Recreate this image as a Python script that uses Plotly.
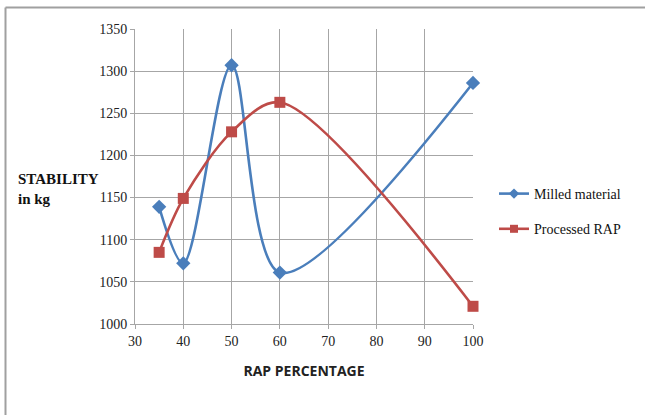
import plotly.graph_objects as go

rap_pct = [35, 40, 50, 60, 100]
milled_material = [1139, 1072, 1307, 1061, 1286]
processed_rap = [1085, 1149, 1228, 1263, 1021]

x_ticks = [30, 40, 50, 60, 70, 80, 90, 100]
y_ticks = [1000, 1050, 1100, 1150, 1200, 1250, 1300, 1350]

W, H = 645, 415
L, R, T, B = 135, 172, 29, 91
pw, ph = W - L - R, H - T - B

BLUE = "#4a7ebb"
RED = "#be4b48"

fig = go.Figure()
series = [
    ("Milled material", milled_material, BLUE, "diamond"),
    ("Processed RAP", processed_rap, RED, "square"),
]
for i, (name, vals, col, sym) in enumerate(series):
    fig.add_trace(go.Scatter(
        x=rap_pct, y=vals, name=name, mode="lines+markers",
        line=dict(color=col, width=2.6, shape="spline", smoothing=0.9),
        marker=dict(symbol=sym, size=11, color=col),
        showlegend=False, cliponaxis=False,
    ))
    # legend entry with the smaller key marker
    fig.add_trace(go.Scatter(
        x=[None], y=[None], name=name, mode="lines+markers",
        line=dict(color=col, width=2.6),
        marker=dict(symbol=sym, size=8, color=col),
        legendgroup=f"g{i}", showlegend=True,
    ))

serif = "Liberation Serif"
grid = "#a6a6a6"

fig.update_xaxes(
    range=[30, 100], tickvals=x_ticks, ticktext=[str(v) for v in x_ticks],
    showgrid=True, gridcolor=grid, gridwidth=1,
    showline=True, linecolor=grid, linewidth=1,
    ticks="outside", ticklen=4, tickcolor=grid,
    tickfont=dict(family=serif, size=14, color="#222"),
    zeroline=False,
    title=dict(text="<b>RAP PERCENTAGE</b>", standoff=18,
               font=dict(family="Open Sans", size=14, color="#222")),
)
fig.update_yaxes(
    range=[1000, 1350], tickvals=y_ticks,
    showgrid=True, gridcolor=grid, gridwidth=1,
    showline=True, linecolor=grid, linewidth=1,
    ticks="outside", ticklen=4, tickcolor=grid,
    tickfont=dict(family=serif, size=14, color="#222"),
    zeroline=False,
)

# y-axis caption placed at the left like a free text label
fig.add_annotation(
    text="<b>STABILITY<br>in kg</b>", xref="paper", yref="paper",
    x=(16 - L) / pw, y=1 - (169 - T) / ph, xanchor="left", yanchor="top",
    align="left", showarrow=False,
    font=dict(family=serif, size=15, color="#111"),
)

# outer chart frame (top and left edges)
fx0 = (5.5 - L) / pw
fy_top = 1 - (7.5 - T) / ph
fy_bot = 1 - (H + 5 - T) / ph
fx_right = (W + 5 - L) / pw
fig.add_shape(type="line", xref="paper", yref="paper", x0=fx0, x1=fx_right,
              y0=fy_top, y1=fy_top, line=dict(color="#a0a0a0", width=2))
fig.add_shape(type="line", xref="paper", yref="paper", x0=fx0, x1=fx0,
              y0=fy_bot, y1=fy_top, line=dict(color="#a0a0a0", width=2))

fig.update_layout(
    width=W, height=H,
    margin=dict(l=L, r=R, t=T, b=B),
    paper_bgcolor="white", plot_bgcolor="white",
    showlegend=True,
    legend=dict(x=(494 - L) / pw, y=1 - (178 - T) / ph, xanchor="left", yanchor="top",
                font=dict(family=serif, size=14, color="#111"),
                bgcolor="rgba(0,0,0,0)", traceorder="grouped", tracegroupgap=14,
                itemwidth=30),
)

fig.write_html("out.html")
